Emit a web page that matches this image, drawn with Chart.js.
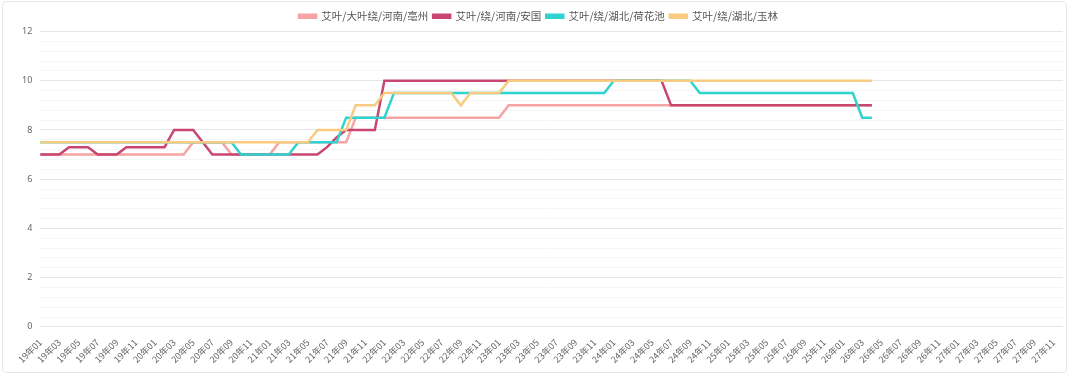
<!DOCTYPE html>
<html>
<head>
<meta charset="utf-8">
<script src="https://cdn.jsdelivr.net/npm/chart.js@4/dist/chart.umd.min.js"></script>
<style>
  html, body { margin: 0; padding: 0; background: #fff; }
  #wrap { position: relative; width: 1080px; height: 379px; }
  #frame { position: absolute; left: 2px; top: 1px; width: 1063px; height: 370px; border: 1px solid #e8e8e8; border-radius: 4px; pointer-events: none; }
</style>
</head>
<body>
<div id="wrap">
  <canvas id="price-chart" width="1080" height="379"></canvas>
  <div id="frame"></div>
</div>
<script>
// month labels 19年01 .. 27年12
var months = [];
for (var y = 19; y <= 27; y++) {
  for (var m = 1; m <= 12; m++) {
    months.push(y + '年' + (m < 10 ? '0' + m : m));
  }
}

var seriesNames = ['艾叶/大叶绕/河南/亳州', '艾叶/绕/河南/安国', '艾叶/绕/湖北/荷花池', '艾叶/绕/湖北/玉林'];
var seriesColors = ['#f5a3a3', '#c9466f', '#2fd3d0', '#f9cb80'];

var bozhou = [7, 7, 7, 7, 7, 7, 7, 7, 7, 7, 7, 7, 7, 7, 7, 7,
  7.5, 7.5, 7.5, 7.5, 7, 7, 7, 7, 7,
  7.5, 7.5, 7.5, 7.5, 7.5, 7.5, 7.5, 7.5,
  8.5, 8.5, 8.5, 8.5, 8.5, 8.5, 8.5, 8.5, 8.5, 8.5, 8.5, 8.5, 8.5, 8.5, 8.5, 8.5,
  9, 9, 9, 9, 9, 9, 9, 9, 9, 9, 9, 9, 9, 9, 9, 9, 9, 9, 9, 9,
  9, 9, 9, 9, 9, 9, 9, 9, 9, 9, 9, 9, 9, 9, 9, 9, 9, 9, 9];

var anguo = [7, 7, 7, 7.3, 7.3, 7.3, 7, 7, 7, 7.3, 7.3, 7.3, 7.3, 7.3,
  8, 8, 8, 7.5, 7, 7, 7, 7, 7, 7, 7, 7, 7, 7, 7, 7,
  7.3, 7.7, 8, 8, 8, 8,
  10, 10, 10, 10, 10, 10, 10, 10, 10, 10, 10, 10, 10, 10, 10,
  10, 10, 10, 10, 10, 10, 10, 10, 10, 10, 10, 10, 10, 10, 10,
  9, 9, 9, 9, 9, 9, 9, 9, 9, 9, 9, 9, 9, 9, 9, 9, 9, 9, 9, 9, 9, 9];

var hehuachi = [7.5, 7.5, 7.5, 7.5, 7.5, 7.5, 7.5, 7.5, 7.5, 7.5, 7.5, 7.5, 7.5, 7.5,
  7.5, 7.5, 7.5, 7.5, 7.5, 7.5, 7.5,
  7, 7, 7, 7, 7, 7,
  7.5, 7.5, 7.5, 7.5, 7.5,
  8.5, 8.5, 8.5, 8.5, 8.5,
  9.5, 9.5, 9.5, 9.5, 9.5, 9.5, 9.5, 9.5, 9.5, 9.5, 9.5, 9.5,
  9.5, 9.5, 9.5, 9.5, 9.5, 9.5, 9.5, 9.5, 9.5, 9.5, 9.5,
  10, 10, 10, 10, 10, 10, 10, 10, 10,
  9.5, 9.5, 9.5, 9.5, 9.5, 9.5, 9.5, 9.5, 9.5, 9.5, 9.5, 9.5, 9.5, 9.5, 9.5, 9.5, 9.5,
  8.5, 8.5];

var yulin = [7.5, 7.5, 7.5, 7.5, 7.5, 7.5, 7.5, 7.5, 7.5, 7.5, 7.5, 7.5, 7.5, 7.5, 7.5,
  7.5, 7.5, 7.5, 7.5, 7.5, 7.5, 7.5, 7.5, 7.5, 7.5, 7.5, 7.5, 7.5, 7.5,
  8, 8, 8, 8,
  9, 9, 9,
  9.5, 9.5, 9.5, 9.5, 9.5, 9.5, 9.5, 9.5,
  9,
  9.5, 9.5, 9.5, 9.5,
  10, 10, 10, 10, 10, 10, 10, 10, 10, 10, 10, 10, 10, 10, 10, 10, 10, 10, 10, 10,
  10, 10, 10, 10, 10, 10, 10, 10, 10, 10, 10, 10, 10, 10, 10, 10, 10, 10, 10];

var yMin = 0;
var yMax = 12;
var yStep = 0.4;

function makeSet(i, values) {
  return {
    label: seriesNames[i],
    data: values,
    borderColor: seriesColors[i],
    backgroundColor: seriesColors[i],
    borderWidth: 2.5,
    pointRadius: 0,
    pointHoverRadius: 0,
    tension: 0,
    fill: false,
    order: 3 - i
  };
}

function isMajor(v) {
  return Math.abs(v / 2 - Math.round(v / 2)) < 1e-6;
}

var ctx = document.getElementById('price-chart');
var priceChart = new Chart(ctx, {
  type: 'line',
  data: {
    labels: months,
    datasets: [
      makeSet(0, bozhou),
      makeSet(1, anguo),
      makeSet(2, hehuachi),
      makeSet(3, yulin)
    ]
  },
  options: {
    responsive: false,
    animation: false,
    layout: { padding: { left: 14, right: 17, top: 6, bottom: 12 } },
    plugins: {
      tooltip: { enabled: false },
      legend: {
        position: 'top',
        align: 'center',
        labels: {
          boxWidth: 17,
          boxHeight: 3,
          padding: 5,
          color: '#555',
          font: { family: "'Noto Sans CJK SC', 'Noto Sans', sans-serif", size: 10.5 },
          sort: function (a, b) { return a.datasetIndex - b.datasetIndex; }
        }
      }
    },
    scales: {
      x: {
        grid: { display: false },
        border: { display: false },
        ticks: {
          autoSkip: false,
          minRotation: 45,
          maxRotation: 45,
          padding: 2,
          color: '#666',
          font: { family: "'Noto Sans CJK SC', sans-serif", size: 9 },
          callback: function (val, idx) {
            return idx % 2 === 0 ? this.getLabelForValue(val) : '';
          }
        }
      },
      y: {
        min: yMin,
        max: yMax,
        border: { display: false },
        grid: {
          drawTicks: false,
          lineWidth: 1,
          color: function (c) { return isMajor(c.tick.value) ? '#e6e6e6' : '#f5f5f5'; }
        },
        ticks: {
          stepSize: yStep,
          autoSkip: false,
          padding: 8,
          color: '#666',
          font: { family: "'Noto Sans', sans-serif", size: 9 },
          callback: function (v) { return isMajor(v) ? Math.round(v) : ''; }
        }
      }
    }
  }
});
</script>
</body>
</html>
